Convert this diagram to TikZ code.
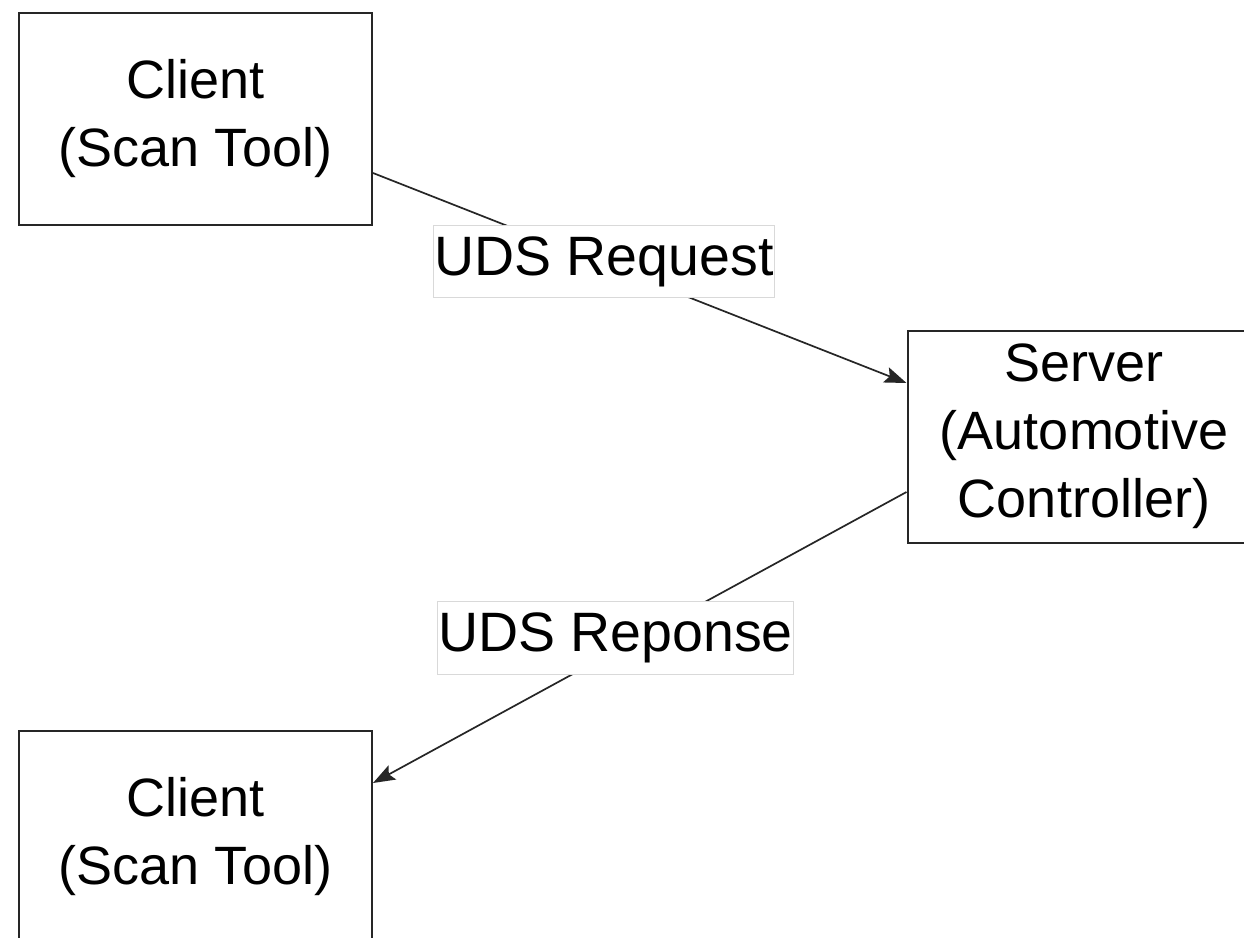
\documentclass[tikz,border=0pt]{standalone}
\usepackage{fontspec}
\setmainfont{Liberation Sans}
\usetikzlibrary{arrows.meta}
\begin{document}
\begin{tikzpicture}[x=1pt,y=1pt,
  party/.style={draw=black!85, line width=2pt, fill=white,
    minimum width=353pt, minimum height=212pt, inner sep=0pt,
    align=center, font=\fontsize{54}{68}\selectfont},
  msg/.style={draw=black!15, line width=1pt, fill=white,
    inner xsep=1pt, inner ysep=11pt,
    font=\fontsize{55.5}{68}\selectfont},
  link/.style={draw=black!85, line width=1.7pt,
    -{Stealth[length=22pt,width=16pt,inset=4pt]}}
]
\useasboundingbox (0,0) rectangle (1244,-937);
\clip (0,0) rectangle (1244,-937);
\fill[white] (0,0) rectangle (1244,-937);

% the three parties
\node[party] (client1) at (195.5,-119) {Client\\(Scan Tool)};
\node[party] (server) at (1084,-436.5) {Server\\(Automotive\\Controller)};
\node[party] (client2) at (195.5,-837) {Client\\(Scan Tool)};

% request and response messages
\draw[link] ([yshift=-54pt]client1.east) -- ([yshift=53.5pt]server.west);
\draw[link] ([yshift=-55.5pt]server.west) -- ([yshift=54pt]client2.east);

\node[msg] (req) at (604,-261.5) {UDS Request};
\node[msg] (resp) at (615.5,-638) {UDS Reponse};
\end{tikzpicture}
\end{document}
